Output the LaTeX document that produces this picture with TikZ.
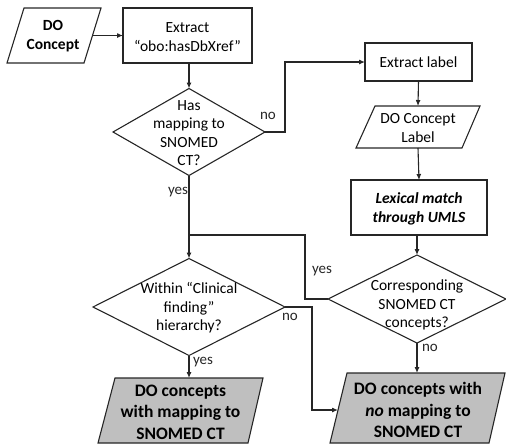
\documentclass[tikz,border=0pt]{standalone}
\usepackage{fontspec}
\setmainfont{Carlito}
\usetikzlibrary{shapes.geometric,arrows.meta,calc}
\definecolor{lc}{HTML}{262626}
\definecolor{resfill}{HTML}{BFBFBF}
\begin{document}
\begin{tikzpicture}[x=1pt,y=-1pt,
  every path/.style={line width=1.1pt},
  stdfont/.style={font=\fontsize{15.5}{18.5}\selectfont},
  box/.style={draw=lc, rectangle, inner sep=0pt, outer sep=0pt, align=center, stdfont},
  dia/.style={draw=lc, diamond, inner sep=0pt, outer sep=0pt},
  txt/.style={align=center, inner sep=0pt, outer sep=0pt, stdfont},
  restxt/.style={align=center, inner sep=0pt, outer sep=0pt, font=\fontsize{17.5}{21.5}\selectfont\bfseries},
  para/.style={draw=lc, line join=miter},
  arr/.style={draw=lc, -{Latex[length=6pt,width=5pt]}},
  conn/.style={draw=lc},
  lbl/.style={inner sep=0pt, font=\fontsize{15}{18}\selectfont, text=lc}
]
\useasboundingbox (0,0) rectangle (506,445);

% DO Concept (input)
\draw[para] (24,8) -- (101,8) -- (84,63) -- (7,63) -- cycle;
\node[txt, font=\fontsize{15.5}{18.5}\selectfont\bfseries] (doc) at (53,36) {DO\\Concept};
\coordinate (docR) at (92,35.5);

% Extract obo:hasDbXref
\node[box, minimum width=129, minimum height=55] (ext) at (187.5,35.5) {};
\node[txt] at (187.5,37) {Extract\\“obo:hasDbXref”};

% Decision 1
\node[dia, minimum width=152, minimum height=87] (d1) at (189,132) {};
\node[txt] at (189,133) {Has\\mapping to\\SNOMED\\CT?};

% Extract label
\node[box, minimum width=107, minimum height=38] (elab) at (418.5,62) {Extract label};

% DO Concept Label parallelogram
\draw[para] (375,106) -- (480,106) -- (462,148) -- (356,148) -- cycle;
\node[txt, minimum width=124, minimum height=42] (dcl) at (418,127) {};
\node[txt] at (418,128) {DO Concept\\Label};

% Lexical match
\node[box, minimum width=136, minimum height=55] (lex) at (419,207.5) {};
\node[txt, font=\fontsize{15.5}{18.5}\selectfont\bfseries\itshape] at (419,209) {Lexical match\\through UMLS};

% Decision 2
\node[dia, minimum width=178, minimum height=88] (d2) at (417,299) {};
\node[txt] at (417,305) {Corresponding\\SNOMED CT\\concepts?};

% Decision 3
\node[dia, minimum width=192, minimum height=97] (d3) at (189,307) {};
\node[txt] at (189,308) {Within “Clinical\\finding”\\hierarchy?};

% Results
\draw[para, fill=resfill] (115,378) -- (263,378) -- (248,443) -- (98,443) -- cycle;
\node[restxt] (lres) at (180.5,412) {DO concepts\\with mapping to\\SNOMED CT};
\coordinate (lresT) at (189,378);

\draw[para, fill=resfill] (347,373) -- (505,373) -- (489,443) -- (330,443) -- cycle;
\node[restxt] (rres) at (418,410) {DO concepts with\\\textit{no} mapping to\\SNOMED CT};
\coordinate (rresT) at (417,373);
\coordinate (rresL) at (338,410);

% Connectors
\draw[arr] (docR) -- (ext.west |- docR);
\draw[arr] (ext.south -| d1.north) -- (d1.north);
\coordinate (nobend) at (285,132);
\draw[arr] (d1.east) -- (nobend) |- (elab.west);
\node[lbl] at (268,116) {no};
\draw[arr] (elab.south) -- (dcl.north);
\draw[arr] (dcl.south) -- (lex.north);
\draw[arr] (lex.south -| d2.north) -- (d2.north);

\draw[arr] (d1.south) -- (d3.north);
\node[lbl] at (178,192) {yes};

\coordinate (ybend) at (305,299);
\coordinate (join) at (189,235);
\draw[conn] (d2.west) -- (ybend) |- (join);
\node[lbl] at (322,271) {yes};

\coordinate (nbend3) at (312,307);
\draw[arr] (d3.east) -- (nbend3) |- (rresL);
\node[lbl] at (290,317) {no};

\draw[arr] (d3.south) -- (lresT);
\node[lbl] at (203,362) {yes};

\draw[arr] (d2.south) -- (rresT);
\node[lbl] at (430,348) {no};
\end{tikzpicture}
\end{document}
